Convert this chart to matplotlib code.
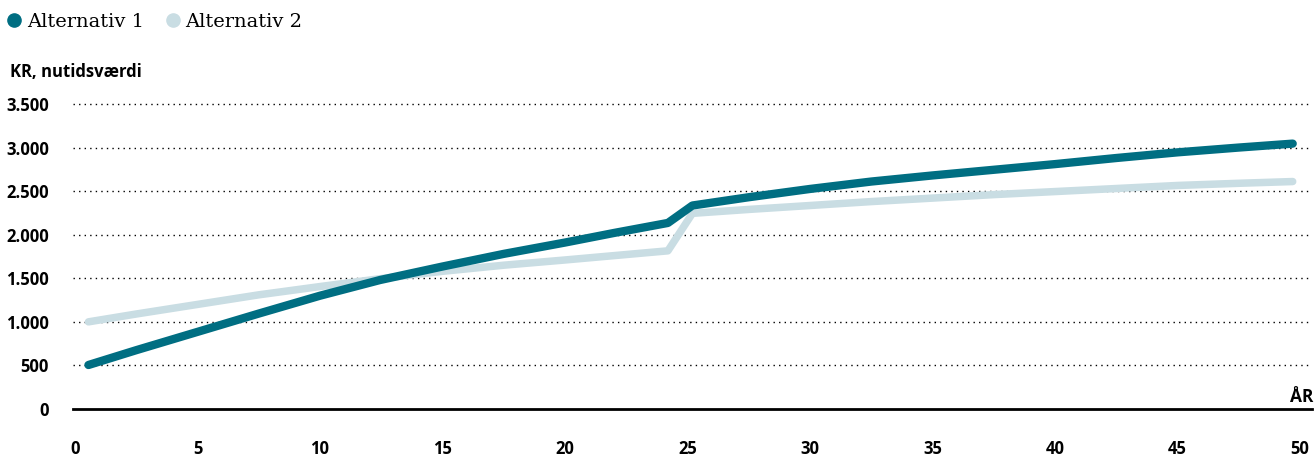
import matplotlib
matplotlib.use("Agg")
import matplotlib.pyplot as plt
from matplotlib.lines import Line2D
from matplotlib.ticker import FuncFormatter

# data (år, kr nutidsværdi)
years_1 = [0.55, 2.5, 5, 7.5, 10, 12.45, 15, 17.5, 20, 22, 24.2,
           25.2, 27.5, 30, 32.5, 35, 37.5, 40, 42.5, 45, 47.5, 49.7]
alt_1 = [505, 675, 885, 1095, 1300, 1480, 1635, 1780, 1910, 2020, 2135,
         2335, 2430, 2525, 2610, 2680, 2745, 2810, 2880, 2945, 3000, 3045]

years_2 = [0.55, 2.5, 5, 7.5, 10, 12.45, 15, 17.5, 20, 22, 24.2,
           25.2, 27.5, 30, 32.5, 35, 37.5, 40, 42.5, 45, 47.5, 49.7]
alt_2 = [1000, 1090, 1200, 1310, 1405, 1495, 1580, 1650, 1710, 1760, 1815,
         2245, 2290, 2335, 2380, 2420, 2460, 2495, 2530, 2565, 2590, 2610]

x_ticks = [0, 5, 10, 15, 20, 25, 30, 35, 40, 45, 50]
y_ticks = [0, 500, 1000, 1500, 2000, 2500, 3000, 3500]

DARK = "#006e82"
LIGHT = "#c9dde3"
BOLD_FONT = ["Open Sans", "DejaVu Sans"]

fig = plt.figure(figsize=(13.14, 4.73), dpi=100)
ax = fig.add_axes([0.0552, 0.1353, 0.9435, 0.6633])

ax.plot(years_2, alt_2, color=LIGHT, linewidth=5.4, solid_capstyle="round",
        solid_joinstyle="round", zorder=3)
ax.plot(years_1, alt_1, color=DARK, linewidth=6.0, solid_capstyle="round",
        solid_joinstyle="round", zorder=4)

ax.set_xlim(-0.1, 50.5)
ax.set_ylim(0, 3600)
ax.set_xticks(x_ticks)
ax.set_yticks(y_ticks)
ax.yaxis.set_major_formatter(FuncFormatter(lambda v, p: f"{int(v):,}".replace(",", ".")))

for y in y_ticks[1:]:
    ax.axhline(y, color="black", linewidth=1.0, linestyle=(0, (1, 3)), zorder=1)
ax.axhline(0, color="black", linewidth=2.0, zorder=2, clip_on=False)

for s in ax.spines.values():
    s.set_visible(False)
ax.tick_params(axis="both", length=0)
ax.tick_params(axis="y", pad=17)
ax.tick_params(axis="x", pad=22)
for lab in ax.get_xticklabels() + ax.get_yticklabels():
    lab.set_family(BOLD_FONT)
    lab.set_fontweight("bold")
    lab.set_fontsize(12)

fig.text(10 / 1314, 1 - 72 / 473, "KR, nutidsværdi", family=BOLD_FONT,
         fontweight="bold", fontsize=12, va="center", ha="left")
fig.text(1313 / 1314, 1 - 397 / 473, "ÅR", family=BOLD_FONT,
         fontweight="bold", fontsize=12.5, va="center", ha="right")

handles = [
    Line2D([], [], linestyle="none", marker="o", markersize=9.5, color=DARK),
    Line2D([], [], linestyle="none", marker="o", markersize=9.5, color=LIGHT),
]
fig.legend(handles, ["Alternativ 1", "Alternativ 2"], loc="center left",
           bbox_to_anchor=(-0.0115, 1 - 22 / 473), ncol=2, frameon=False,
           handletextpad=0.05, columnspacing=0.9, handlelength=1.2,
           prop={"family": "DejaVu Serif", "size": 14})

fig.savefig("out.png", dpi=100)
